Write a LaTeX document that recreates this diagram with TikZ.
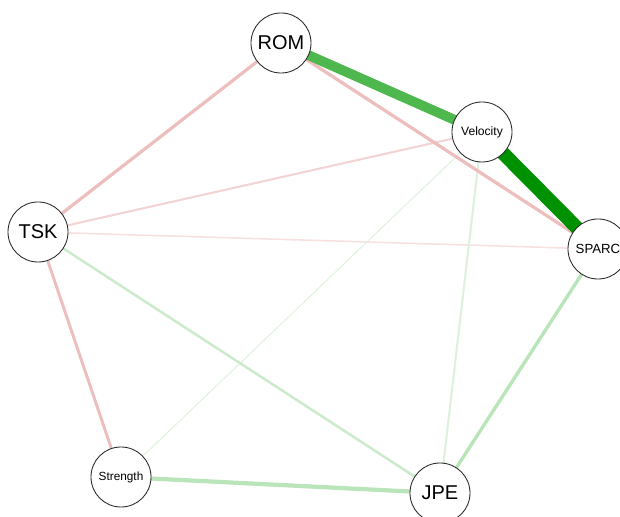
\documentclass[tikz,border=0pt]{standalone}
\usepackage{fontspec}
\setmainfont{Liberation Sans}
\definecolor{posstrong}{RGB}{0,145,0}
\definecolor{posmid}{RGB}{78,184,78}
\definecolor{poslight}{RGB}{186,228,186}
\definecolor{posmild}{RGB}{204,234,204}
\definecolor{posfaint}{RGB}{222,241,222}
\definecolor{negmid}{RGB}{236,190,190}
\definecolor{neglight}{RGB}{242,212,212}
\definecolor{negfaint}{RGB}{246,224,224}

\begin{document}
\begin{tikzpicture}[x=0.025cm,y=-0.025cm,thick,main node/.style={circle,draw=black!85,line width=0.6pt,fill=white,minimum size=1.5cm,inner sep=0pt,font=\fontsize{14.2}{15}\selectfont},small node/.style={main node,font=\fontsize{8.6}{9}\selectfont}]
                \useasboundingbox (0,0) rectangle (620,517);

                \coordinate (c1) at (281,43);
                \coordinate (c2) at (482,132);
                \coordinate (c3) at (598,249);
                \coordinate (c4) at (38,232);
                \coordinate (c5) at (121,477);
                \coordinate (c6) at (440,493);

                \path
                    (c4) edge[negfaint, line width=1.1pt] (c3)
                    (c4) edge[neglight, line width=1.5pt] (c2)
                    (c5) edge[posfaint, line width=0.7pt] (c2)
                    (c2) edge[posfaint, line width=1.5pt] (c6)
                    (c4) edge[posmild, line width=1.8pt] (c6)
                    (c1) edge[negmid, line width=2.3pt] (c3)
                    (c1) edge[negmid, line width=2.3pt] (c4)
                    (c4) edge[negmid, line width=2.1pt] (c5)
                    (c3) edge[poslight, line width=2.4pt] (c6)
                    (c5) edge[poslight, line width=3pt] (c6)
                    (c1) edge[posmid, line width=7pt] (c2)
                    (c2) edge[posstrong, line width=9.8pt] (c3)
                    ;

                \node[main node] (1) at (c1) {ROM};
                \node[small node] (2) at (c2) {Velocity};
                \node[small node, font=\fontsize{9.4}{10}\selectfont] (3) at (c3) {SPARC};
                \node[main node] (4) at (c4) {TSK};
                \node[small node, font=\fontsize{8.4}{9}\selectfont] (5) at (c5) {Strength};
                \node[main node] (6) at (c6) {JPE};
            \end{tikzpicture}
\end{document}
